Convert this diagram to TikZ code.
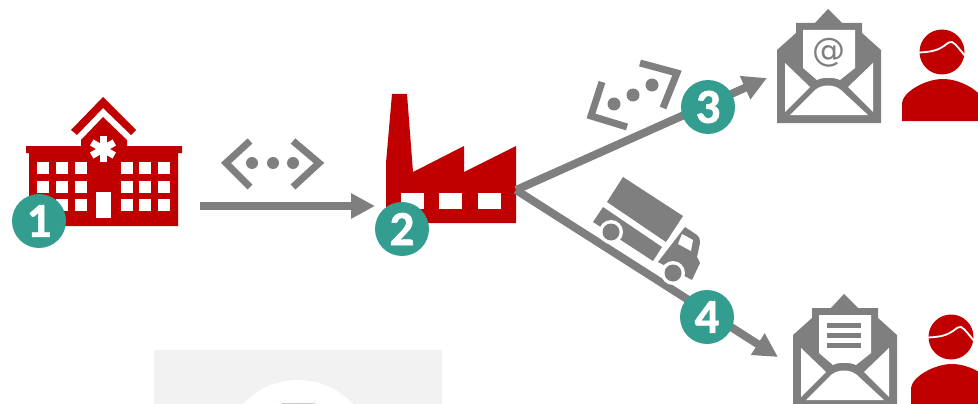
\documentclass[tikz,border=0pt]{standalone}
\usepackage{fontspec}
\setmainfont{Carlito}
\newfontfamily\badgefont[FakeBold=1.2]{Carlito Bold}
\newfontfamily\atfont{DejaVu Sans}
\usetikzlibrary{arrows.meta}
\definecolor{brandred}{HTML}{C00000}
\definecolor{midgray}{HTML}{7F7F7F}
\definecolor{tealbadge}{HTML}{339E90}
\definecolor{panelgray}{HTML}{F2F2F2}
\tikzset{
  x=1pt,y=-1pt,
  badge/.style={circle,fill=tealbadge,minimum size=54pt,inner sep=0pt,text=white,
    font=\badgefont\fontsize{49}{49}\selectfont},
  flow/.style={draw=midgray,line width=8pt,-{Triangle[length=24pt,width=24pt]}},
  tagline/.style={draw=midgray,line width=7pt,line cap=butt,miter limit=10},
  winbox/.style={fill=white},
  envelopepic/.pic={
    \fill[midgray] (828,9) -- (842,23) -- (862,23) -- (862,33) -- (881,50) -- (881,123)
      -- (777,123) -- (777,50) -- (796,33) -- (796,23) -- (815,23) -- cycle;
    \fill[white] (803,30) -- (855,30) -- (855,68) -- (840,80) .. controls (834,77) and (822,77) .. (817,80) -- (803,68) -- cycle;
    \fill[white] (785,63) -- (785,112) -- (810,87) -- cycle;
    \fill[white] (873,63) -- (873,112) -- (848,87) -- cycle;
    \fill[white] (790,115) -- (815,90) .. controls (822,84) and (834,84) .. (841,90) -- (868,115) -- cycle;
  },
  personpic/.pic={
    \fill[brandred] (942,52) circle[radius=22.5];
    \draw[white,line width=1.8pt] (919,52.5) .. controls (932,52) and (938,50) .. (944,46)
      .. controls (948,43) and (950,41) .. (952,42) .. controls (956,44) and (960,50) .. (966,57);
    \fill[brandred] (902,121) -- (902,103) .. controls (903,92) and (925,79) .. (943,79)
      .. controls (961,79) and (983,92) .. (984,103) -- (984,121) -- cycle;
  }
}
\begin{document}
\begin{tikzpicture}
\useasboundingbox (0,0) rectangle (978,404);
\clip (0,0) rectangle (978,404);
% lower panel
\fill[panelgray] (154,350) rectangle (442,404);
\fill[white] (298,455) circle[radius=75];
\fill[brandred!25] (282,403) rectangle (315,404);
% hospital
\fill[brandred] (71,130) -- (103,97) -- (136,130) -- (131,135) -- (103,108) -- (77,135) -- cycle;
\fill[brandred] (26,146) -- (81,146) -- (81,140) -- (103,117) -- (127,140) -- (127,146) -- (182,146)
  -- (182,153) -- (178,153) -- (178,226) -- (29,226) -- (29,153) -- (26,153) -- cycle;
\foreach \wx in {37,56,75,121,139,158}
  \foreach \wy in {162,181,199}
    \fill[winbox] (\wx,\wy) rectangle ++(11.5,11.5);
\fill[winbox] (96,192) rectangle (111,218);
\foreach \ang in {90,30,150}
  \draw[white,line width=7pt] (103,149) ++(\ang:13) -- ++(\ang+180:26);
% factory
\fill[brandred] (386,223) -- (386,163) -- (392,94) -- (407,94) -- (413,172) -- (464,146) -- (464,172)
  -- (516,146) -- (516,223) -- cycle;
\fill[winbox] (401,193) rectangle (424,209);
\fill[winbox] (439,193) rectangle (462,209);
\fill[winbox] (478,193) rectangle (501,209);
% anchors
\coordinate (hospitalout) at (200,206);
\coordinate (factoryin) at (375,206);
\coordinate (factoryout) at (516,190);
\coordinate (mailtop) at (767,78);
\coordinate (mailbottom) at (778,357);
% connectors
\draw[flow] (hospitalout) -- (factoryin);
\draw[flow] (factoryout) -- (mailtop);
\draw[flow] (factoryout) -- (mailbottom);
% tag above first arrow
\draw[tagline] (250,141) -- (226,163) -- (250,187);
\draw[tagline] (293,141) -- (319,163) -- (293,187);
\foreach \dx in {252,273,293} \fill[midgray] (\dx,163) circle[radius=6];
% rotated tag
\draw[tagline] (602,82) -- (591,116) -- (627,127);
\draw[tagline] (640,63) -- (677,73) -- (663,108);
\fill[midgray] (614,104) circle[radius=6.5];
\fill[midgray] (633,95) circle[radius=6.5];
\fill[midgray] (652,85) circle[radius=6.5];
% truck
\fill[midgray] (623,177) -- (683,216) -- (666,242) -- (607,202) -- cycle;
\fill[midgray] (603,207) -- (662,247) -- (653,261) -- (593,222) -- cycle;
\fill[midgray] (685,227) -- (697,235) .. controls (700,238) and (700,240) .. (700,243) -- (697,257)
  -- (700,263) -- (692,280) -- (658,262) -- cycle;
\fill[white] (682,234) -- (693,240) -- (691,251) -- (678,244) -- cycle;
\fill[white] (611,232) circle[radius=12];
\fill[midgray] (611,232) circle[radius=8.5];
\fill[white] (673,273) circle[radius=12];
\fill[midgray] (673,273) circle[radius=8.5];
% envelopes
\pic at (0,0) {envelopepic};
\node[text=midgray,inner sep=0pt,font=\atfont\fontsize{33}{33}\selectfont] (atsign) at (829,53) {@};
\pic at (16,285) {envelopepic};
\foreach \ly in {325,335,345} \fill[midgray] (827,\ly-2.5) rectangle (861,\ly+2.5);
% people
\pic at (0,0) {personpic};
\pic at (9,285) {personpic};
% badges
\node[badge] (one) at (39,221) {1};
\node[badge] (two) at (402,229) {2};
\node[badge] (three) at (708,107) {3};
\node[badge] (four) at (707,317) {4};
\end{tikzpicture}
\end{document}
